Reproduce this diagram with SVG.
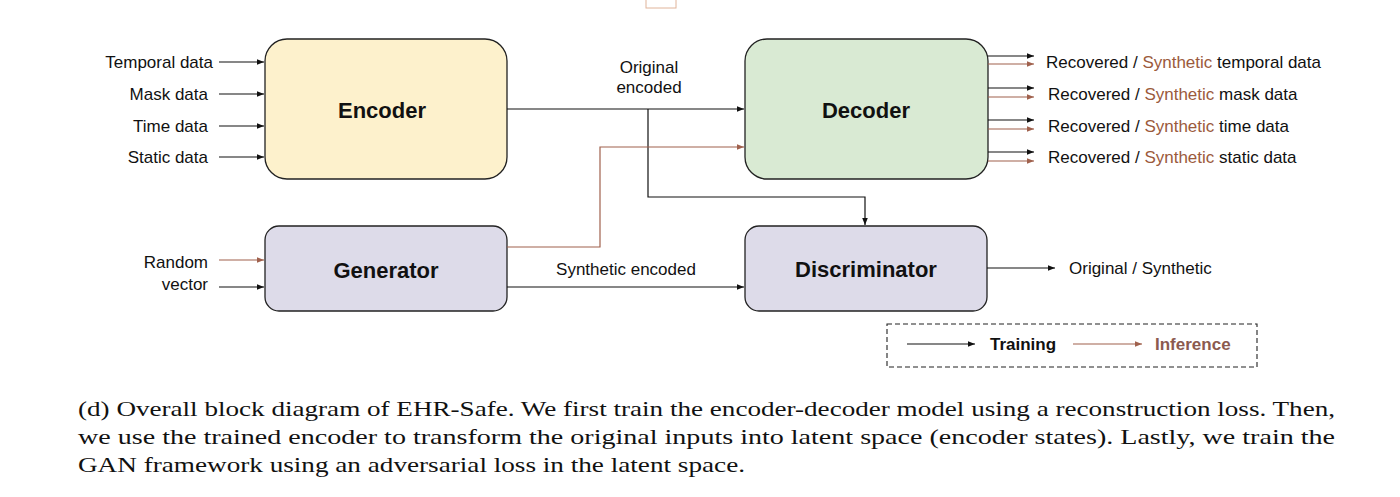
<svg xmlns="http://www.w3.org/2000/svg" width="1400" height="497" viewBox="0 0 1400 497">
<style>
.lbl{font-family:"Liberation Sans",Arial,sans-serif;font-size:17px;fill:#111;dominant-baseline:central}
.title{font-family:"Liberation Sans",Arial,sans-serif;font-size:22px;font-weight:bold;fill:#111;text-anchor:middle;dominant-baseline:central}
.box{stroke:#222;stroke-width:1.3}
.k{stroke:#111;stroke-width:1.2;fill:none}
.b{stroke:#a0614d;stroke-width:1.2;fill:none}
.syn{fill:#9b5a3c}
.cap{font-family:"Liberation Serif","Times New Roman",serif;font-size:22px;fill:#111}
</style>
<defs>
<marker id="ak" viewBox="0 0 10 10" refX="10" refY="5" markerWidth="7" markerHeight="7" markerUnits="userSpaceOnUse" orient="auto"><path d="M0,1 L10,5 L0,9 z" fill="#111"/></marker>
<marker id="ab" viewBox="0 0 10 10" refX="10" refY="5" markerWidth="7" markerHeight="7" markerUnits="userSpaceOnUse" orient="auto"><path d="M0,1 L10,5 L0,9 z" fill="#a0614d"/></marker>
</defs>
<rect width="1400" height="497" fill="#fff"/>
<rect x="646" y="-2" width="30" height="10" fill="none" stroke="#e0b49a" stroke-width="1"/>

<g id="encoder">
<rect class="box" x="265" y="39" width="242" height="140" rx="22" fill="#fdf1cc"/>
<text class="title" x="382" y="110">Encoder</text>
</g>
<g id="decoder">
<rect class="box" x="745" y="39" width="243" height="140" rx="22" fill="#d9ead3"/>
<text class="title" x="866" y="110">Decoder</text>
</g>
<g id="generator">
<rect class="box" x="265" y="226" width="242" height="85" rx="14" fill="#dddbe9"/>
<text class="title" x="386" y="270">Generator</text>
</g>
<g id="discriminator">
<rect class="box" x="745" y="226" width="242" height="85" rx="14" fill="#dddbe9"/>
<text class="title" x="866" y="269">Discriminator</text>
</g>

<g id="input-labels">
<text class="lbl" x="213" y="62" text-anchor="end">Temporal data</text>
<text class="lbl" x="208" y="94" text-anchor="end">Mask data</text>
<text class="lbl" x="208" y="126" text-anchor="end">Time data</text>
<text class="lbl" x="208" y="157" text-anchor="end">Static data</text>
<text class="lbl" x="208" y="262" text-anchor="end">Random</text>
<text class="lbl" x="208" y="284" text-anchor="end">vector</text>
</g>

<g id="output-labels">
<text class="lbl" x="1046" y="62">Recovered / <tspan class="syn">Synthetic</tspan> temporal data</text>
<text class="lbl" x="1048" y="94">Recovered / <tspan class="syn">Synthetic</tspan> mask data</text>
<text class="lbl" x="1048" y="126">Recovered / <tspan class="syn">Synthetic</tspan> time data</text>
<text class="lbl" x="1048" y="157">Recovered / <tspan class="syn">Synthetic</tspan> static data</text>
<text class="lbl" x="1069" y="268">Original / Synthetic</text>
</g>

<g id="edge-labels">
<text class="lbl" x="649" y="67" text-anchor="middle">Original</text>
<text class="lbl" x="649" y="87" text-anchor="middle">encoded</text>
<text class="lbl" x="626" y="269" text-anchor="middle">Synthetic encoded</text>
</g>

<g id="connectors">
<line class="k" x1="219" y1="62" x2="264" y2="62" marker-end="url(#ak)"/>
<line class="k" x1="219" y1="94" x2="264" y2="94" marker-end="url(#ak)"/>
<line class="k" x1="219" y1="126" x2="264" y2="126" marker-end="url(#ak)"/>
<line class="k" x1="219" y1="157" x2="264" y2="157" marker-end="url(#ak)"/>
<line class="b" x1="219" y1="260" x2="264" y2="260" marker-end="url(#ab)"/>
<line class="k" x1="219" y1="287" x2="264" y2="287" marker-end="url(#ak)"/>
<line class="k" x1="507" y1="109" x2="744" y2="109" marker-end="url(#ak)"/>
<polyline class="k" points="648,109 648,197 865,197 865,225" marker-end="url(#ak)"/>
<polyline class="b" points="507,247 600,247 600,147 744,147" marker-end="url(#ab)"/>
<line class="k" x1="507" y1="287" x2="744" y2="287" marker-end="url(#ak)"/>
<line class="k" x1="988" y1="56" x2="1034" y2="56" marker-end="url(#ak)"/>
<line class="b" x1="988" y1="64" x2="1034" y2="64" marker-end="url(#ab)"/>
<line class="k" x1="988" y1="88" x2="1034" y2="88" marker-end="url(#ak)"/>
<line class="b" x1="988" y1="97" x2="1034" y2="97" marker-end="url(#ab)"/>
<line class="k" x1="988" y1="120" x2="1034" y2="120" marker-end="url(#ak)"/>
<line class="b" x1="988" y1="129" x2="1034" y2="129" marker-end="url(#ab)"/>
<line class="k" x1="988" y1="152" x2="1034" y2="152" marker-end="url(#ak)"/>
<line class="b" x1="988" y1="161" x2="1034" y2="161" marker-end="url(#ab)"/>
<line class="k" x1="987" y1="268" x2="1055" y2="268" marker-end="url(#ak)"/>
</g>

<g id="legend">
<rect x="887" y="324" width="370" height="43" fill="none" stroke="#222" stroke-width="1.1" stroke-dasharray="5,3"/>
<line class="k" x1="907" y1="344" x2="975" y2="344" marker-end="url(#ak)"/>
<text x="990" y="344" style="font-family:'Liberation Sans',Arial,sans-serif;font-size:17px;font-weight:bold;fill:#111;dominant-baseline:central">Training</text>
<line class="b" x1="1073" y1="344" x2="1142" y2="344" marker-end="url(#ab)"/>
<text x="1155" y="344" style="font-family:'Liberation Sans',Arial,sans-serif;font-size:17px;font-weight:bold;fill:#8b5a4f;dominant-baseline:central">Inference</text>
</g>

<g id="caption">
<text class="cap" x="78" y="416" textLength="1257" lengthAdjust="spacingAndGlyphs">(d) Overall block diagram of EHR-Safe. We first train the encoder-decoder model using a reconstruction loss. Then,</text>
<text class="cap" x="78" y="444" textLength="1257" lengthAdjust="spacingAndGlyphs">we use the trained encoder to transform the original inputs into latent space (encoder states). Lastly, we train the</text>
<text class="cap" x="78" y="472" textLength="667" lengthAdjust="spacingAndGlyphs">GAN framework using an adversarial loss in the latent space.</text>
</g>
</svg>
